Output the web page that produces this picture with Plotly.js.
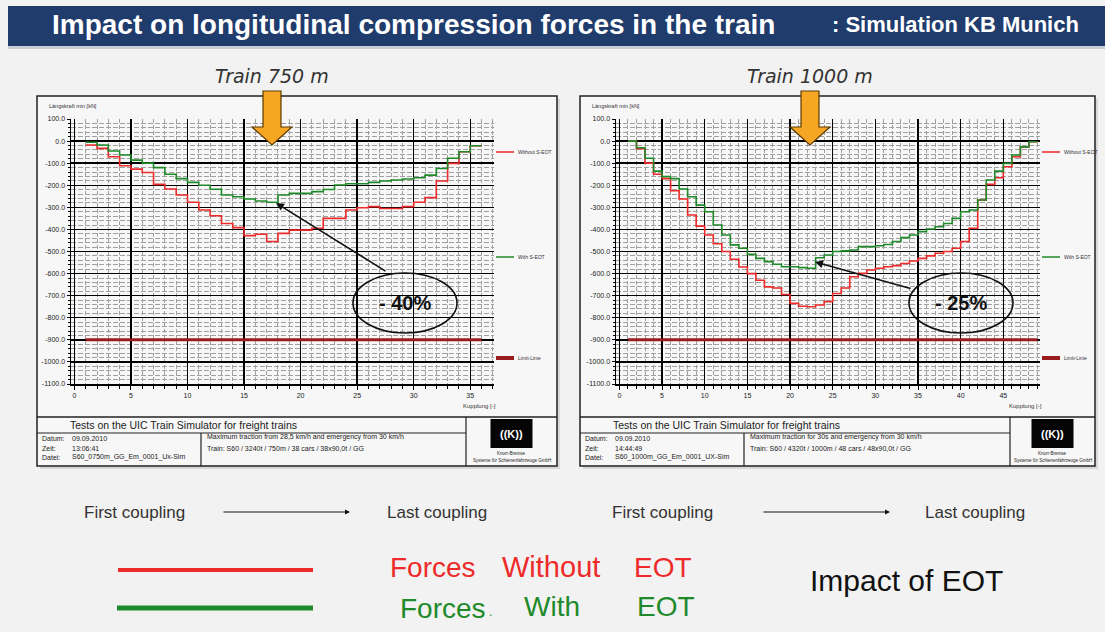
<!DOCTYPE html>
<html><head><meta charset="utf-8">
<script src="https://cdn.plot.ly/plotly-3.0.1.min.js"></script>
<style>html,body{margin:0;padding:0;background:#f2f2f2;}#chart{width:1105px;height:632px;}</style>
</head><body><div id="chart"></div>
<script>
// ---------- DATA ----------
const leftCouplings = [1,2,3,4,5,6,7,8,9,10,11,12,13,14,15,16,17,18,19,20,21,22,23,24,25,26,27,28,29,30,31,32,33,34,35];
const leftWithout = [-18,-33,-71,-112,-127,-142,-196,-217,-244,-277,-312,-338,-373,-392,-428,-422,-455,-418,-403,-403,-395,-350,-350,-312,-302,-297,-305,-305,-297,-277,-256,-181,-101,-48,-21];
const leftWith    = [-5,-18,-45,-63,-86,-100,-120,-150,-170,-187,-200,-218,-244,-252,-262,-271,-277,-244,-237,-237,-229,-219,-199,-193,-193,-187,-181,-176,-172,-166,-154,-124,-78,-48,-21];

const rightCouplings = [1,2,3,4,5,6,7,8,9,10,11,12,13,14,15,16,17,18,19,20,21,22,23,24,25,26,27,28,29,30,31,32,33,34,35,36,37,38,39,40,41,42,43,44,45,46,47,48];
const rightWithout = [0,-35,-100,-150,-170,-225,-262,-335,-385,-425,-465,-500,-535,-570,-600,-630,-660,-665,-695,-735,-748,-750,-742,-727,-690,-665,-614,-599,-584,-576,-569,-564,-554,-543,-531,-520,-508,-500,-485,-455,-395,-267,-196,-166,-116,-71,-26,-3];
const rightWith    = [0,-30,-78,-136,-161,-170,-217,-252,-290,-320,-380,-425,-470,-485,-513,-531,-546,-558,-569,-569,-573,-576,-528,-516,-500,-497,-493,-478,-478,-474,-468,-455,-437,-425,-410,-398,-388,-373,-350,-320,-312,-267,-176,-136,-101,-63,-26,-3];

const limitValue = -900;
const yTickValues = [100,0,-100,-200,-300,-400,-500,-600,-700,-800,-900,-1000,-1100];
const leftXTicks = [0,5,10,15,20,25,30,35];
const rightXTicks = [0,5,10,15,20,25,30,35,40,45];
const seriesNames = ["Without S-EOT","With S-EOT","Limit-Linie"];
const reductions = ["- 40%","- 25%"];
const trainLabels = ["Train 750 m","Train 1000 m"];

// ---------- STYLE ----------
const W=1105, H=632;
const px = v => v/W, py = v => 1 - v/H;
const RED='#ee2a2a', GREEN='#1f8a2a', LIMIT='#9a1c1c';

function step(xs, ys, color, xa, ya, w){
  const x = xs.concat([xs[xs.length-1]+1]);
  const y = ys.concat([ys[ys.length-1]]);
  return {x, y, type:'scatter', mode:'lines', line:{shape:'hv', color, width:w},
          xaxis:xa, yaxis:ya, showlegend:false, hoverinfo:'skip'};
}
function limit(xs, xa, ya){
  return {x:[xs[0], xs[xs.length-1]+1], y:[limitValue, limitValue], type:'scatter', mode:'lines',
          line:{color:LIMIT, width:3}, xaxis:xa, yaxis:ya, showlegend:false, hoverinfo:'skip'};
}
const data = [
  limit(leftCouplings,'x','y'),
  step(leftCouplings, leftWithout, RED, 'x','y',1.6),
  step(leftCouplings, leftWith, GREEN, 'x','y',1.6),
  limit(rightCouplings,'x2','y2'),
  step(rightCouplings, rightWithout, RED, 'x2','y2',1.6),
  step(rightCouplings, rightWith, GREEN, 'x2','y2',1.6)
];

function xaxisDef(dom, range, ticks, anchor){
  return {domain:[px(dom[0]),px(dom[1])], range, anchor, tickmode:'array', tickvals:ticks,
    ticktext:ticks.map(String), showgrid:true, gridcolor:'#000', gridwidth:1.4, zeroline:false,
    showline:true, linecolor:'#000', linewidth:1.5, ticks:'outside', ticklen:4, tickcolor:'#000',
    tickfont:{size:7, family:'Arial', color:'#222'},
    minor:{dtick:1, tick0:0, showgrid:true, gridcolor:'#a0a0a0', griddash:'4px,2px', gridwidth:1,
           ticks:'outside', ticklen:3, tickcolor:'#000'}};
}
function yaxisDef(anchor){
  return {domain:[py(384),py(119)], range:[-1100,100], anchor, tickmode:'array', tickvals:yTickValues,
    ticktext:yTickValues.map(v=>v.toFixed(1)), showgrid:true, gridcolor:'#000', gridwidth:1.4,
    zeroline:false, showline:true, linecolor:'#000', linewidth:1.5, ticks:'outside', ticklen:3,
    tickcolor:'#000', tickfont:{size:7, family:'Arial', color:'#222'},
    minor:{dtick:20, tick0:0, showgrid:true, gridcolor:'#a0a0a0', griddash:'5px,2px', gridwidth:1,
           ticks:'outside', ticklen:2, tickcolor:'#000'}};
}

const shapes = [];
const ann = [];
function rect(x0,y0,x1,y1,fill,lc,lw,layer){shapes.push({type:'rect',xref:'paper',yref:'paper',x0:px(x0),x1:px(x1),y0:py(y0),y1:py(y1),fillcolor:fill,line:{color:lc||'rgba(0,0,0,0)',width:lw||0},layer:layer||'above'});}
function line(x0,y0,x1,y1,c,w,layer){shapes.push({type:'line',xref:'paper',yref:'paper',x0:px(x0),x1:px(x1),y0:py(y0),y1:py(y1),line:{color:c,width:w},layer:layer||'above'});}
function text(t,x,y,size,color,opts){ann.push(Object.assign({text:t,xref:'paper',yref:'paper',x:px(x),y:py(y),showarrow:false,xanchor:'left',yanchor:'middle',font:{size,color,family:'Arial, Liberation Sans'}},opts||{}));}
function arrow(x,y,tx,ty,w,head){ann.push({text:'',xref:'paper',yref:'paper',x:px(x),y:py(y),ax:tx-x,ay:ty-y,showarrow:true,arrowhead:head||2,arrowsize:1,arrowwidth:w,arrowcolor:'#111'});}

// title bar
rect(8,46,1105,49,'#c9ced6',null,0,'below');
rect(8,6,1105,46,'#1f3c6c',null,0,'below');
text('Impact on longitudinal compression forces in the train',50,25,27,'#ffffff',{font:{size:28,color:'#fff',family:'Liberation Sans Narrow, Arial Narrow, Arial',weight:'bold'}});
text(': Simulation KB Munich',830,25,19,'#ffffff',{font:{size:22,color:'#fff',family:'Liberation Sans Narrow, Arial Narrow, Arial',weight:'bold'}});

// panels
const panels = [
  {x0:37,x1:557, plotR:494, div:201, logo:466, dat:['Datum:','09.09.2010'], zeit:'13:06:41',
   datei:'S60_0750m_GG_Em_0001_Ux-Sim', l1:'Maximum traction from 28,5 km/h and emergency from 30 km/h',
   l2:'Train: S60 / 3240t / 750m / 38 cars / 38x90,0t / GG', arrowX:272, train:trainLabels[0]},
  {x0:580,x1:1095, plotR:1040, div:744, logo:1010, dat:['Datum:','09.09.2010'], zeit:'14:44:49',
   datei:'S60_1000m_GG_Em_0001_UX-Sim', l1:'Maximum traction for 30s and emergency from 30 km/h',
   l2:'Train: S60 / 4320t / 1000m / 48 cars / 48x90,0t / GG', arrowX:810, train:trainLabels[1]}
];
panels.forEach(p=>{
  rect(p.x0+3,99,p.x1+3,469,'#d8d8d8',null,0,'below');
  rect(p.x0,96,p.x1,466,'#f7f7f7','#222',1.5,'below');
  line(p.x0,417,p.x1,417,'#222',1.5);
  line(p.x0,433,p.logo,433,'#222',1.2);
  line(p.logo,417,p.logo,466,'#222',1.2);
  line(p.div,433,p.div,466,'#222',1.2);
  text('Tests on the UIC Train Simulator for freight trains',p.x0+31,425,10.5,'#222');
  text('Datum:',p.x0+3,438,7,'#222'); text(p.dat[1],p.x0+33,438,7,'#222');
  text('Zeit:',p.x0+3,448,7,'#222'); text(p.zeit,p.x0+33,448,7,'#222');
  text('Datei:',p.x0+3,457,7,'#222'); text(p.datei,p.x0+33,457,7,'#222');
  text(p.l1,p.div+4,437,7,'#222'); text(p.l2,p.div+4,448,7,'#222');
  const lc=(p.logo+p.x1)/2;
  rect(lc-21,419,lc+21,448,'#050505',null,0);
  text('((K))',lc,433.5,11,'#ffffff',{xanchor:'center',font:{size:11,color:'#fff',family:'Arial Black, Arial',weight:'bold'}});
  text('Knorr-Bremse',lc,453,4.5,'#222',{xanchor:'center'});
  text('Systeme für Schienenfahrzeuge GmbH',lc,460,4.5,'#222',{xanchor:'center'});
  // axis titles
  text('Längskraft min [kN]',p.x0+10,106,5.5,'#333');
  text('Kupplung [-]',p.plotR+4,406,6,'#333',{xanchor:'right'});
  // in-chart legend
  const lx=p.plotR+2;
  line(lx,152,lx+18,152,RED,1.5); text(seriesNames[0],lx+20,152,5,'#333');
  line(lx,257,lx+18,257,GREEN,1.5); text(seriesNames[1],lx+20,257,5,'#333');
  line(lx,358,lx+18,358,LIMIT,4); text(seriesNames[2],lx+20,358,5,'#333');
  // train label
  text(p.train,p.arrowX,76,19,'#333',{xanchor:'center',font:{size:19,color:'#333',family:'DejaVu Sans',style:'italic'}});
  // orange arrow
  const a=p.arrowX, s=9, hw=20;
  shapes.push({type:'path',xref:'paper',yref:'paper',layer:'above',fillcolor:'#f6a623',line:{color:'#5a3a00',width:1.2},
    path:`M ${px(a-s)} ${py(91)} L ${px(a+s)} ${py(91)} L ${px(a+s)} ${py(127)} L ${px(a+hw)} ${py(127)} L ${px(a)} ${py(145)} L ${px(a-hw)} ${py(127)} L ${px(a-s)} ${py(127)} Z`});
});

// ellipses and reduction labels
[[405,303,387,272,276,203,reductions[0]],[961,303,912,289,815,262,reductions[1]]].forEach(e=>{
  shapes.push({type:'circle',xref:'paper',yref:'paper',x0:px(e[0]-52),x1:px(e[0]+52),y0:py(e[1]+30),y1:py(e[1]-30),line:{color:'#111',width:1.6},layer:'above'});
  text(e[6],e[0],e[1],20,'#111',{xanchor:'center',font:{size:20,color:'#111',family:'Arial',weight:'bold'}});
  arrow(e[4],e[5],e[2],e[3],1.6,2);
});

// first/last coupling
const bf='Liberation Sans Narrow, Arial Narrow, Arial';
[[82,222,350,385],[610,762,890,923]].forEach(c=>{
  text('First coupling',c[0],512,17,'#333',{font:{size:17,color:'#333',family:bf}});
  arrow(c[2],512,c[1],512,1,2);
  text('Last coupling',c[3],512,17,'#333',{font:{size:17,color:'#333',family:bf}});
});

// bottom legend
line(118,570,313,570,RED,4);
line(117,608,313,608,GREEN,5);
text('Forces',388,567,28,RED,{font:{size:28,color:RED,family:bf}});
text('Without',500,567,28,RED,{font:{size:29,color:RED,family:bf}});
text('EOT',632,567,28,RED,{font:{size:28,color:RED,family:bf}});
text('Forces',398,608,28,GREEN,{font:{size:28,color:GREEN,family:bf}});
text('.',487,612,12,GREEN,{font:{size:12,color:GREEN,family:bf}});
text('With',522,606,28,GREEN,{font:{size:28,color:GREEN,family:bf}});
text('EOT',635,606,28,GREEN,{font:{size:28,color:GREEN,family:bf}});
text('Impact of EOT',808,580,30,'#111',{font:{size:30,color:'#111',family:bf}});

const layout = {
  width:W, height:H, margin:{l:0,r:0,t:0,b:0}, paper_bgcolor:'#f2f2f2', plot_bgcolor:'#ffffff',
  showlegend:false,
  xaxis: xaxisDef([71,494],[-0.3,37.1],leftXTicks,'y'),
  yaxis: yaxisDef('x'),
  xaxis2: xaxisDef([616,1040],[-0.4,49.3],rightXTicks,'y2'),
  yaxis2: yaxisDef('x2'),
  shapes, annotations: ann
};
Plotly.newPlot('chart', data, layout, {staticPlot:true});
</script></body></html>
